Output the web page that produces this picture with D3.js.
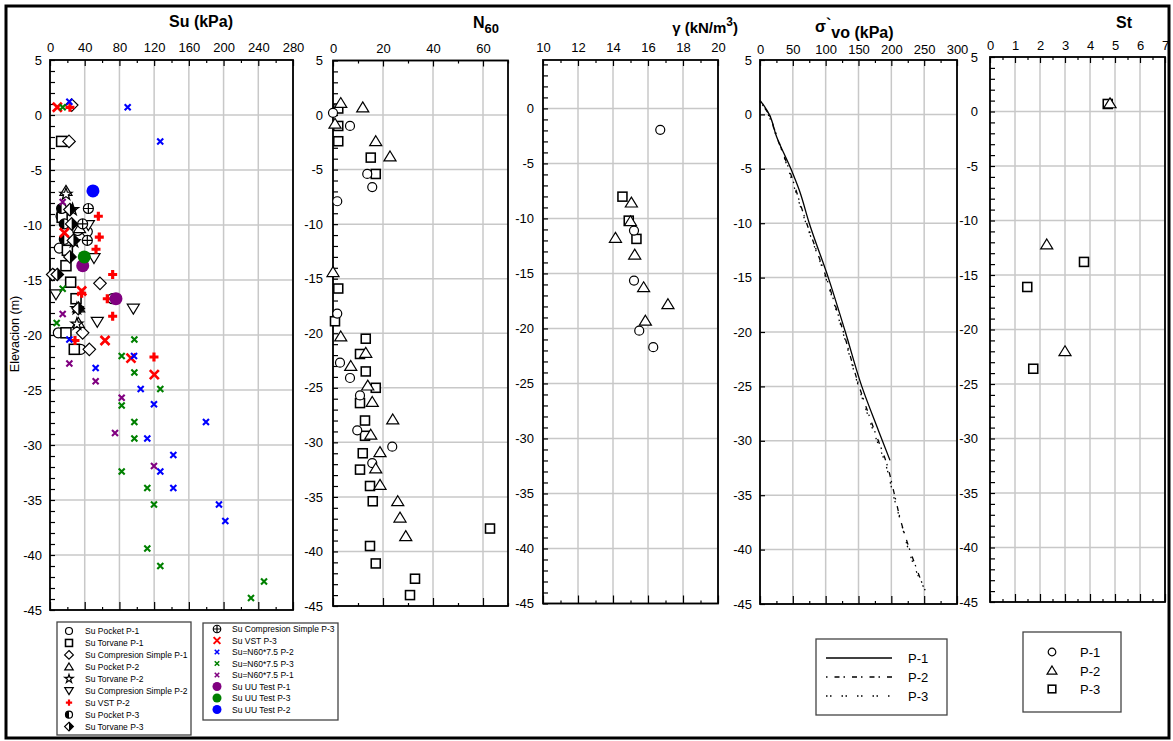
<!DOCTYPE html>
<html>
<head>
<meta charset="utf-8">
<script src="https://cdn.jsdelivr.net/npm/d3@7"></script>
<style>
body { margin: 0; background: #fff; }
text { font-family: Arial, "Liberation Sans", sans-serif; fill: #000; }
</style>
</head>
<body>
<script>
// ---- Su (kPa) vs elevation (m) ----
var suPocketP1 = [[12.7,-9.2],[31.9,-10.5],[43,-10.6],[10.7,-12.1],[72,-16.7],[9.6,-19.8],[35.3,-21.3]];
var suTorvaneP1 = [[13.4,-2.4],[14,-9.3],[20,-12.3],[18.4,-13.7],[23.8,-15.2],[30,-16.7],[18.4,-19.8],[28,-21.3]];
var suCompP1 = [[25,0.9],[21.9,-2.4],[3.1,-14.5],[57.6,-15.3],[37.6,-19.8],[45.3,-21.3]];
var suPocketP2 = [[18.4,-6.9],[34,-10.3],[33,-17.5],[32.6,-18.9]];
var suTorvaneP2 = [[18.4,-7.2],[26,-8.6],[27.7,-11.5],[31,-17.6],[31,-19.0]];
var suCompP2 = [[44.2,-10.0],[50.7,-13.0],[6.9,-16.3],[96,-17.6],[54.5,-18.8]];
var suVstP2 = [[23,0.7],[55.7,-9.2],[56.8,-11.1],[53,-12.2],[72.2,-14.5],[36.5,-16.2],[66,-16.7],[72.2,-18.3],[28.8,-20.5],[119.8,-22.0]];
var suPocketP3 = [[13.4,-8.5],[16.5,-9.9],[16.5,-11.3]];
var suTorvaneP3 = [[23,-8.6],[25,-9.9],[27,-11.4],[23,-12.9],[8.4,-14.5],[32.6,-17.6]];
var suCompP3 = [[44.2,-8.5],[37.6,-9.9],[43,-11.4]];
var suVstP3 = [[8.4,0.7],[16.5,-10.7],[36.5,-16.0],[63.4,-20.5],[93.3,-22.1],[120.2,-23.6]];
var suN60P2 = [[22.3,1.2],[89.5,0.7],[127,-2.4],[22.3,-20.4],[96.8,-21.9],[52.6,-23.0],[104.5,-24.9],[119.8,-26.3],[179.7,-27.9],[112.1,-29.4],[142.1,-30.9],[127.1,-32.4],[142.1,-33.9],[194.7,-35.4],[202,-36.9]];
var suN60P3 = [[14.6,0.7],[14.6,-15.8],[7.7,-18.9],[97.2,-20.4],[82.6,-21.9],[97.2,-23.4],[127.1,-24.9],[82.6,-26.4],[97.2,-27.9],[97.2,-29.4],[82.6,-32.4],[112.1,-33.9],[119.8,-35.4],[112.1,-39.4],[127.1,-41.0],[246.6,-42.4],[231.6,-43.9]];
var suN60P1 = [[14.6,-7.9],[14.6,-18.1],[22.3,-22.6],[52.6,-24.2],[82.6,-25.7],[74.9,-28.9],[119.8,-31.9]];
var suUuP1 = [[37.7,-13.7],[76,-16.7]];
var suUuP3 = [[39.5,-12.9]];
var suUuP2 = [[49.5,-6.9]];

// ---- N60 ----
var n60P1 = [[0,0.2],[6.8,-1.0],[13.7,-5.4],[15.7,-6.6],[1.7,-7.9],[1.7,-18.2],[2.8,-22.7],[6.8,-24.1],[10.8,-25.7],[9.7,-28.9],[23.7,-30.4],[15.7,-31.9]];
var n60P2 = [[3.1,1.1],[11.9,0.7],[0.8,-0.8],[17.1,-2.4],[22.8,-3.8],[0,-14.4],[3.1,-20.3],[13.1,-21.8],[7.1,-23.0],[13.9,-24.8],[15.7,-26.3],[23.9,-27.9],[15.1,-29.3],[18.8,-30.9],[17.1,-32.4],[18.8,-33.9],[25.9,-35.4],[26.8,-36.9],[29.1,-38.6]];
var n60P3 = [[2.1,0.6],[2.1,-1.0],[2.1,-2.4],[15.1,-3.9],[17.1,-5.4],[2.1,-15.9],[0.8,-18.9],[13.1,-20.5],[10.8,-21.9],[13.1,-23.5],[17.1,-25.0],[10.8,-26.4],[12.8,-28.0],[12.8,-29.4],[11.9,-31.0],[10.8,-32.5],[14.8,-34.0],[15.9,-35.4],[62.8,-37.9],[14.8,-39.5],[17.1,-41.1],[32.8,-42.5],[30.8,-44.0]];

// ---- unit weight (kN/m3) ----
var gamP1 = [[16.7,-1.95],[15.2,-11.1],[15.2,-15.65],[15.5,-20.2],[16.3,-21.7]];
var gamP2 = [[15.05,-8.56],[15.0,-10.26],[14.14,-11.77],[15.24,-13.29],[15.75,-16.26],[17.14,-17.8],[15.85,-19.3]];
var gamP3 = [[14.54,-8.02],[14.9,-10.2],[15.34,-11.86]];

// ---- effective vertical stress (kPa) ----
var sigP1 = [[0,1.3],[6,0.8],[14,0],[25,-2],[47,-5],[60,-7],[75,-10],[104,-15],[130,-20],[155,-25],[180,-29],[198,-31.8]];
var sigP2 = [[0,1.2],[8,0.5],[14,0],[22,-1.5],[44,-5],[71,-10],[101,-15],[127,-20],[151,-25],[174,-29],[194,-32.3],[205,-35],[215,-37.5],[228,-40],[240,-42],[250,-43.6]];
var sigP3 = [[0,1.2],[10,0.3],[16,-0.5],[40,-4.5],[70,-10],[100,-15],[126,-20],[150,-25],[172,-29],[193,-32.5],[203,-35],[217,-38],[226,-40],[238,-42],[252,-43.8]];

// ---- sensitivity St ----
var stP1 = [];
var stP2 = [[4.8,0.75],[2.27,-12.2],[3.0,-22.0]];
var stP3 = [[4.71,0.69],[3.76,-13.8],[1.49,-16.1],[1.73,-23.6]];

var elevTicks = d3.range(-45, 6, 5);

var svg = d3.select("body").append("svg")
  .attr("width", 1173)
  .attr("height", 741);

// outer border
svg.append("rect")
  .attr("x", 6).attr("y", 6).attr("width", 1163).attr("height", 732)
  .attr("fill", "none").attr("stroke", "#000").attr("stroke-width", 3);

function makePanel(o) {
  var x = d3.scaleLinear().domain(o.xd).range([o.left, o.right]);
  var y = d3.scaleLinear().domain(o.yd).range([o.top, o.bottom]);
  var g = svg.append("g");
  var yMajor = elevTicks.filter(function(d) { return d <= o.yd[0] && d >= o.yd[1]; });

  // grid
  g.selectAll(null).data(o.xMajor).enter().append("line")
    .attr("x1", x).attr("x2", x).attr("y1", o.top).attr("y2", o.bottom)
    .attr("stroke", "#c8c8c8").attr("stroke-width", 1.5);
  g.selectAll(null).data(yMajor).enter().append("line")
    .attr("y1", y).attr("y2", y).attr("x1", o.left).attr("x2", o.right)
    .attr("stroke", "#c8c8c8").attr("stroke-width", 1.5);

  function clean(sel) {
    sel.select(".domain").remove();
    sel.selectAll("line").attr("stroke", "#000").attr("stroke-width", 1.2);
    sel.selectAll("text").attr("font-size", 13).attr("font-family", "Arial, 'Liberation Sans', sans-serif").attr("fill", "#000");
  }

  // top axis
  g.append("g").attr("transform", "translate(0," + o.top + ")")
    .call(d3.axisTop(x).tickValues(o.xMajor).tickSize(-6).tickPadding(o.xPad).tickFormat(d3.format("d")))
    .call(clean);
  g.append("g").attr("transform", "translate(0," + o.top + ")")
    .call(d3.axisTop(x).tickValues(o.xMinor).tickSize(-3).tickFormat(""))
    .call(clean);
  // bottom axis
  g.append("g").attr("transform", "translate(0," + o.bottom + ")")
    .call(d3.axisBottom(x).tickValues(o.xMajor).tickSize(-8).tickFormat(""))
    .call(clean);
  g.append("g").attr("transform", "translate(0," + o.bottom + ")")
    .call(d3.axisBottom(x).tickValues(o.xMinor).tickSize(-3).tickFormat(""))
    .call(clean);
  // left axis
  var yt = o.leftMinor ? d3.range(Math.floor(o.yd[0]), o.yd[1] - 1, -1) : yMajor;
  g.append("g").attr("transform", "translate(" + o.left + ",0)")
    .call(d3.axisLeft(y).tickValues(yt).tickSize(-5).tickPadding(o.yPad)
      .tickFormat(function(d) { return d % 5 === 0 ? d : ""; }))
    .call(clean);

  // frame
  g.append("rect")
    .attr("x", o.left).attr("y", o.top)
    .attr("width", o.right - o.left).attr("height", o.bottom - o.top)
    .attr("fill", "none").attr("stroke", "#000").attr("stroke-width", 1.8);

  return { x: x, y: y, g: svg.append("g") };
}

// marker painter
function marker(s, type, c, r) {
  var sw = 1.2;
  if (type === "circle") {
    s.append("circle").attr("r", r).attr("fill", "#fff").attr("stroke", c).attr("stroke-width", sw);
  } else if (type === "square") {
    s.append("rect").attr("x", -r).attr("y", -r).attr("width", 2 * r).attr("height", 2 * r)
      .attr("fill", "#fff").attr("stroke", c).attr("stroke-width", sw * 1.3);
  } else if (type === "diamond") {
    var k = r * 1.25;
    s.append("path").attr("d", "M0," + (-k) + "L" + k + ",0L0," + k + "L" + (-k) + ",0Z")
      .attr("fill", "#fff").attr("stroke", c).attr("stroke-width", sw);
  } else if (type === "triUp" || type === "triDown") {
    var f = type === "triUp" ? 1 : -1;
    s.append("path").attr("d", "M0," + (-r * f) + "L" + (r * 1.1) + "," + (r * 0.8 * f) + "L" + (-r * 1.1) + "," + (r * 0.8 * f) + "Z")
      .attr("fill", "#fff").attr("stroke", c).attr("stroke-width", sw);
  } else if (type === "star") {
    s.append("path").attr("d", d3.symbol().type(d3.symbolStar).size(r * r * 1.8)())
      .attr("fill", "#fff").attr("stroke", c).attr("stroke-width", sw);
  } else if (type === "plus") {
    s.append("path").attr("d", "M" + (-r) + ",0H" + r + "M0," + (-r) + "V" + r)
      .attr("stroke", c).attr("stroke-width", r * 0.7).attr("fill", "none");
  } else if (type === "xbig" || type === "x") {
    s.append("path").attr("d", "M" + (-r) + "," + (-r) + "L" + r + "," + r + "M" + (-r) + "," + r + "L" + r + "," + (-r))
      .attr("stroke", c).attr("stroke-width", type === "xbig" ? r * 0.6 : r * 0.7).attr("fill", "none");
  } else if (type === "halfCircle") {
    s.append("circle").attr("r", r).attr("fill", "#fff").attr("stroke", c).attr("stroke-width", sw);
    s.append("path").attr("d", "M0," + (-r) + "A" + r + "," + r + " 0 0 0 0," + r + "Z").attr("fill", c);
  } else if (type === "halfDiamond") {
    var q = r * 1.25;
    s.append("path").attr("d", "M0," + (-q) + "L" + q + ",0L0," + q + "L" + (-q) + ",0Z")
      .attr("fill", "#fff").attr("stroke", c).attr("stroke-width", sw);
    s.append("path").attr("d", "M0," + (-q) + "L" + q + ",0L0," + q + "Z").attr("fill", c);
  } else if (type === "oplus") {
    s.append("circle").attr("r", r).attr("fill", "#fff").attr("stroke", c).attr("stroke-width", sw);
    s.append("path").attr("d", "M" + (-r) + ",0H" + r + "M0," + (-r) + "V" + r)
      .attr("stroke", c).attr("stroke-width", sw);
  } else if (type === "dot") {
    s.append("circle").attr("r", r).attr("fill", c);
  }
}

function drawPts(p, data, type, color, r) {
  p.g.selectAll(null).data(data).enter().append("g")
    .attr("transform", function(d) { return "translate(" + p.x(d[0]) + "," + p.y(d[1]) + ")"; })
    .each(function() { marker(d3.select(this), type, color, r); });
}

// ---------------- panels ----------------
var pSu = makePanel({ left: 50, right: 293, top: 60, bottom: 610, xd: [0, 280], yd: [5, -45],
  xMajor: d3.range(0, 281, 40), xMinor: d3.range(20, 281, 40), xPad: 8, yPad: 8, leftMinor: true });
var pN = makePanel({ left: 333, right: 508, top: 60.5, bottom: 606, xd: [0, 70], yd: [5, -45],
  xMajor: [0, 20, 40, 60], xMinor: [10, 30, 50, 70], xPad: 8, yPad: 10, leftMinor: true });
var pG = makePanel({ left: 543, right: 718, top: 60, bottom: 603.5, xd: [10, 20], yd: [4.4, -45],
  xMajor: d3.range(10, 21, 2), xMinor: d3.range(11, 20, 2), xPad: 8, yPad: 9, leftMinor: true });
var pS = makePanel({ left: 760, right: 957, top: 60, bottom: 604, xd: [0, 300], yd: [5, -45],
  xMajor: d3.range(0, 301, 50), xMinor: d3.range(25, 300, 50), xPad: 6, yPad: 8, leftMinor: false });
var pT = makePanel({ left: 990, right: 1165, top: 57, bottom: 602, xd: [0, 7], yd: [5, -45],
  xMajor: d3.range(0, 8, 1), xMinor: d3.range(0.5, 7, 1), xPad: 7, yPad: 12, leftMinor: true });

// titles
svg.append("text").attr("x", 201).attr("y", 27).attr("text-anchor", "middle")
  .attr("font-size", 16).attr("font-weight", "bold").text("Su (kPa)");
var tN = svg.append("text").attr("x", 473).attr("y", 28).attr("font-size", 16).attr("font-weight", "bold");
tN.append("tspan").text("N");
tN.append("tspan").attr("font-size", 13).attr("dy", 5).text("60");
var tG = svg.append("text").attr("x", 738).attr("y", 33).attr("text-anchor", "end").attr("font-size", 15).attr("font-weight", "bold");
tG.append("tspan").text("γ (kN/m");
tG.append("tspan").attr("font-size", 12).attr("dy", -7).text("3");
tG.append("tspan").attr("dy", 7).text(")");
var tS = svg.append("text").attr("x", 815).attr("y", 38).attr("font-size", 16).attr("font-weight", "bold");
tS.append("tspan").attr("dy", -6).text("σ");
tS.append("tspan").attr("dy", -2).text("`");
tS.append("tspan").attr("dy", 8).text("vo (kPa)");
svg.append("text").attr("x", 1124).attr("y", 28).attr("text-anchor", "middle")
  .attr("font-size", 16).attr("font-weight", "bold").text("St");
svg.append("text").attr("transform", "translate(19,334) rotate(-90)").attr("text-anchor", "middle")
  .attr("font-size", 12.5).text("Elevacion (m)");

// ---------------- Su series ----------------
var suSeries = [
  { name: "Su Pocket P-1", data: suPocketP1, type: "circle", color: "#000", r: 5 },
  { name: "Su Torvane P-1", data: suTorvaneP1, type: "square", color: "#000", r: 5 },
  { name: "Su Compresion Simple P-1", data: suCompP1, type: "diamond", color: "#000", r: 5 },
  { name: "Su Pocket P-2", data: suPocketP2, type: "triUp", color: "#000", r: 5.5 },
  { name: "Su Torvane P-2", data: suTorvaneP2, type: "star", color: "#000", r: 5 },
  { name: "Su Compresion Simple P-2", data: suCompP2, type: "triDown", color: "#000", r: 5.5 },
  { name: "Su VST P-2", data: suVstP2, type: "plus", color: "#ff0000", r: 4.5 },
  { name: "Su Pocket P-3", data: suPocketP3, type: "halfCircle", color: "#000", r: 5 },
  { name: "Su Torvane P-3", data: suTorvaneP3, type: "halfDiamond", color: "#000", r: 5 },
  { name: "Su Compresion Simple P-3", data: suCompP3, type: "oplus", color: "#000", r: 5 },
  { name: "Su VST P-3", data: suVstP3, type: "xbig", color: "#ff0000", r: 4.5 },
  { name: "Su=N60*7.5 P-2", data: suN60P2, type: "x", color: "#0000ff", r: 3 },
  { name: "Su=N60*7.5 P-3", data: suN60P3, type: "x", color: "#008000", r: 3 },
  { name: "Su=N60*7.5 P-1", data: suN60P1, type: "x", color: "#800080", r: 3 },
  { name: "Su UU Test P-1", data: suUuP1, type: "dot", color: "#800080", r: 6.5 },
  { name: "Su UU Test P-3", data: suUuP3, type: "dot", color: "#008000", r: 6.5 },
  { name: "Su UU Test P-2", data: suUuP2, type: "dot", color: "#0000ff", r: 6.5 }
];
suSeries.forEach(function(s) { drawPts(pSu, s.data, s.type, s.color, s.r); });

// ---------------- N60, gamma, St ----------------
var pointSeries = [
  { name: "P-1", type: "circle" },
  { name: "P-2", type: "triUp" },
  { name: "P-3", type: "square" }
];
drawPts(pN, n60P3, "square", "#000", 4.5);
drawPts(pN, n60P1, "circle", "#000", 4.5);
drawPts(pN, n60P2, "triUp", "#000", 5.5);
drawPts(pG, gamP3, "square", "#000", 4.5);
drawPts(pG, gamP1, "circle", "#000", 4.5);
drawPts(pG, gamP2, "triUp", "#000", 5.5);
drawPts(pT, stP3, "square", "#000", 4.5);
drawPts(pT, stP1, "circle", "#000", 4.5);
drawPts(pT, stP2, "triUp", "#000", 5.5);

// ---------------- stress lines ----------------
var sigSeries = [
  { name: "P-1", data: sigP1, dash: null },
  { name: "P-2", data: sigP2, dash: "1.5,7,5,4" },
  { name: "P-3", data: sigP3, dash: "1.5,2.5,1.5,10" }
];
var line = d3.line().x(function(d) { return pS.x(d[0]); }).y(function(d) { return pS.y(d[1]); }).curve(d3.curveMonotoneY);
sigSeries.forEach(function(s) {
  pS.g.append("path").datum(s.data).attr("d", line)
    .attr("fill", "none").attr("stroke", "#000").attr("stroke-width", 1.3)
    .attr("stroke-dasharray", s.dash);
});

// ---------------- legends ----------------
function legendBox(x, y, w, h) {
  svg.append("rect").attr("x", x).attr("y", y).attr("width", w).attr("height", h)
    .attr("fill", "#fff").attr("stroke", "#444").attr("stroke-width", 1.3);
}

legendBox(57, 622, 134, 113);
legendBox(203, 623, 135, 97);
var leftRows = suSeries.slice(0, 9);
var rightRows = suSeries.slice(9);
leftRows.forEach(function(s, i) {
  var cy = 631 + i * 11.95;
  var gg = svg.append("g").attr("transform", "translate(69," + cy + ")");
  marker(gg, s.type, s.color, s.type === "dot" ? 4.5 : s.r * 0.7);
  svg.append("text").attr("x", 85).attr("y", cy + 3).attr("font-size", 8.5).text(s.name);
});
rightRows.forEach(function(s, i) {
  var cy = 629 + i * 11.5;
  var gg = svg.append("g").attr("transform", "translate(217," + cy + ")");
  marker(gg, s.type, s.color, s.type === "dot" ? 4.5 : s.r * 0.75);
  svg.append("text").attr("x", 232).attr("y", cy + 3).attr("font-size", 8.5).text(s.name);
});

legendBox(816, 639, 131, 76);
sigSeries.forEach(function(s, i) {
  var cy = 658 + i * 19;
  svg.append("line").attr("x1", 826).attr("x2", 892).attr("y1", cy).attr("y2", cy)
    .attr("stroke", "#000").attr("stroke-width", 1.3).attr("stroke-dasharray", s.dash);
  svg.append("text").attr("x", 908).attr("y", cy + 5).attr("font-size", 13).text(s.name);
});

legendBox(1023, 632, 98, 80);
pointSeries.forEach(function(s, i) {
  var cy = 652 + i * 18.5;
  var gg = svg.append("g").attr("transform", "translate(1052," + cy + ")");
  marker(gg, s.type, "#000", s.type === "triUp" ? 4.5 : 3.8);
  svg.append("text").attr("x", 1080).attr("y", cy + 5).attr("font-size", 13).text(s.name);
});
</script>
</body>
</html>
